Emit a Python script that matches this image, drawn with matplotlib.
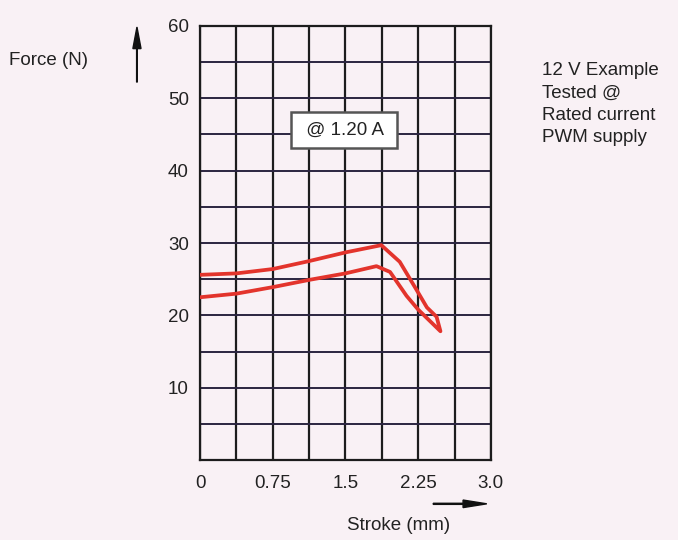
import matplotlib.pyplot as plt
from matplotlib.patches import FancyArrow

# readings (closed loop)
upper_x = [0.0, 0.375, 0.75, 1.125, 1.5, 1.87, 2.06, 2.23, 2.34, 2.44]
upper_f = [25.6, 25.8, 26.4, 27.5, 28.7, 29.7, 27.4, 23.6, 21.1, 19.8]
lower_x = [0.0, 0.375, 0.75, 1.125, 1.5, 1.82, 1.96, 2.13, 2.25, 2.48]
lower_f = [22.5, 23.0, 23.9, 24.9, 25.8, 26.8, 26.0, 22.7, 20.8, 17.8]

x_grid = [i * 0.375 for i in range(9)]
x_labels = ['0', '', '0.75', '', '1.5', '', '2.25', '', '3.0']
y_grid = list(range(0, 61, 5))
y_labels = ['' if v % 10 or v == 0 else str(v) for v in y_grid]

bg = '#f9f1f5'
fs = 13.5
plt.rcParams['font.family'] = ['Liberation Sans', 'DejaVu Sans']

fig = plt.figure(figsize=(6.78, 5.4), dpi=100, facecolor=bg)
ax = fig.add_axes([0.295, 0.148, 0.429, 0.804])
ax.set_facecolor(bg)

for xv in x_grid:
    ax.axvline(xv, color='#1c1c1c', lw=1.6, zorder=1)
for yv in y_grid:
    ax.axhline(yv, color='#2b2540', lw=1.4, zorder=1)

# loop: upper curve out, down the tip, lower curve back
loop_x = upper_x + lower_x[::-1]
loop_f = upper_f + lower_f[::-1]
ax.plot(loop_x, loop_f, color='#e3342c', lw=2.7, solid_joinstyle='round', zorder=3)

ax.set_xlim(0, 3.0)
ax.set_ylim(0, 60)
ax.set_xticks(x_grid)
ax.set_xticklabels(x_labels, fontsize=fs, color='#222')
ax.set_yticks(y_grid)
ax.set_yticklabels(y_labels, fontsize=fs, color='#222')
ax.tick_params(axis='x', length=0, pad=11)
ax.tick_params(axis='y', length=0, pad=8)
for s in ax.spines.values():
    s.set_color('#1c1c1c')
    s.set_linewidth(1.6)

ax.text(1.49, 45.6, ' @ 1.20 A ', ha='center', va='center', fontsize=fs, color='#222',
        bbox=dict(boxstyle='square,pad=0.5', fc='white', ec='#555', lw=1.8), zorder=4)

fig.text(0.014, 0.888, 'Force (N)', fontsize=fs, color='#222', va='center')
fig.patches.append(FancyArrow(0.202, 0.848, 0, 0.102, width=0.001, head_width=0.012,
                              head_length=0.04, length_includes_head=True,
                              color='#111', transform=fig.transFigure))

fig.text(0.8, 0.807, '12 V Example\nTested @\nRated current\nPWM supply', fontsize=fs,
         color='#222', va='center', linespacing=1.4)

fig.text(0.512, 0.026, 'Stroke (mm)', fontsize=fs, color='#222', va='center')
fig.patches.append(FancyArrow(0.639, 0.067, 0.079, 0, width=0.002, head_width=0.014,
                              head_length=0.035, length_includes_head=True,
                              color='#111', transform=fig.transFigure))

fig.savefig('out.png', dpi=100, facecolor=bg)
